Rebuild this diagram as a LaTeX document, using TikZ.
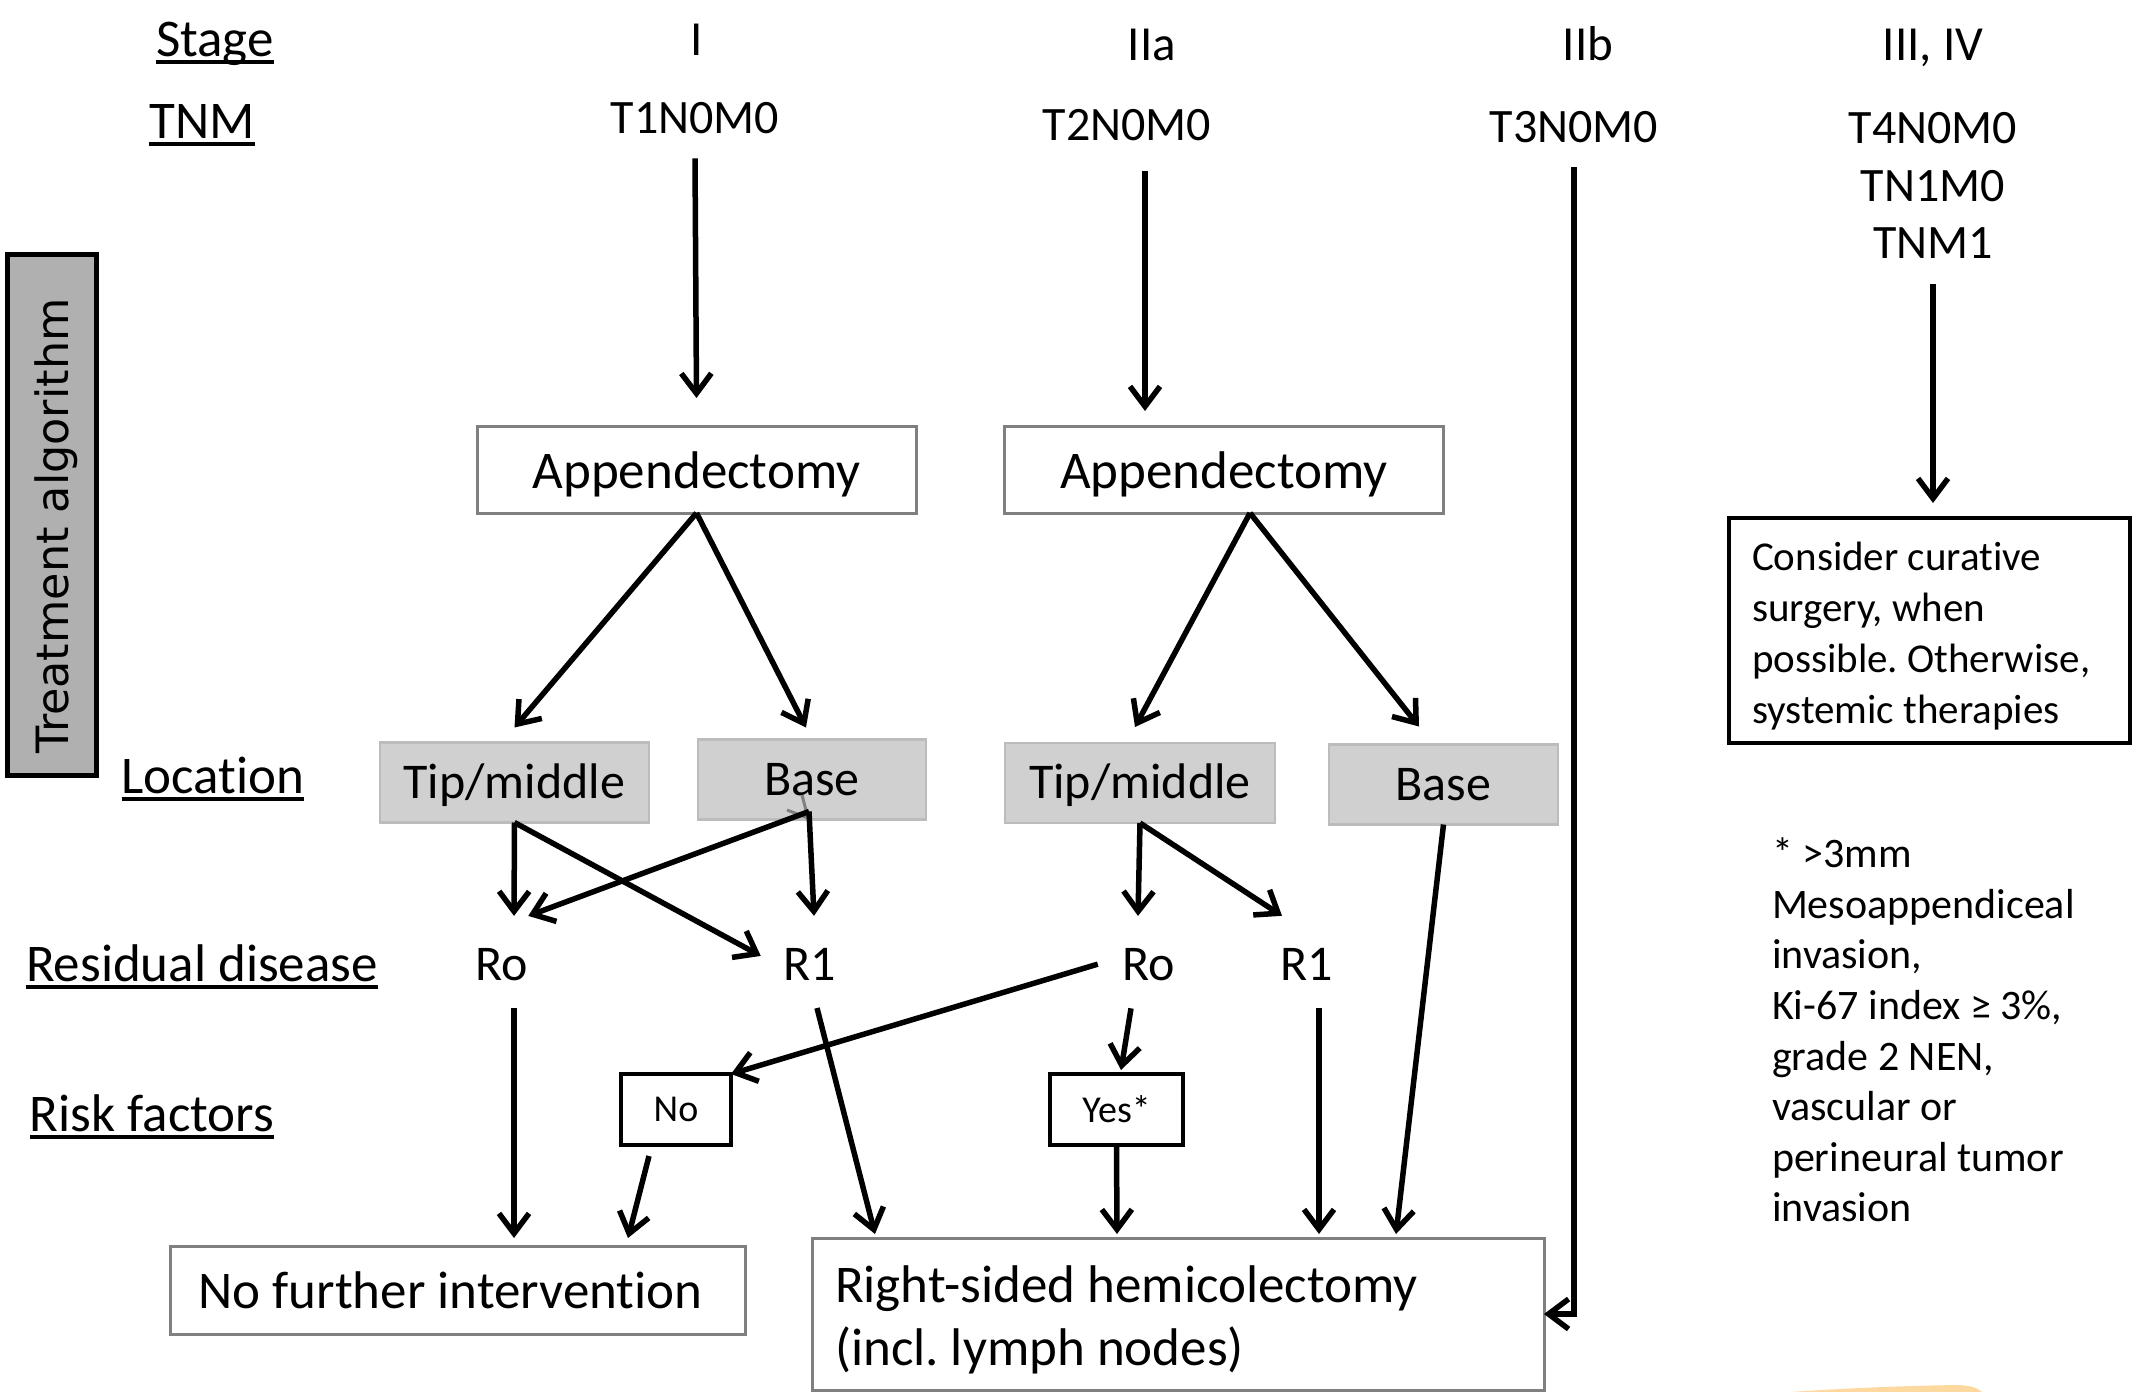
\documentclass[tikz,border=0pt]{standalone}
\usepackage{fontspec}
\setmainfont{Carlito}[Ligatures=CommonOff]
\newfontfamily\vfont{DejaVu Sans}
\usetikzlibrary{arrows.meta,calc}
\definecolor{boxline}{RGB}{128,128,128}
\definecolor{grayfill}{RGB}{208,208,208}
\definecolor{grayline}{RGB}{188,188,188}
\definecolor{treatfill}{RGB}{176,176,176}
\definecolor{smudge}{RGB}{253,217,160}
\frenchspacing
\begin{document}
\begin{tikzpicture}[x=1pt,y=-1pt,
  every node/.style={inner sep=0pt,outer sep=0pt},
  lbl/.style={anchor=base,font=\fontsize{53}{60}\selectfont},
  stg/.style={anchor=base,font=\fontsize{49}{56}\selectfont},
  code/.style={anchor=base,font=\fontsize{48}{56}\selectfont},
  resid/.style={anchor=base,font=\fontsize{50}{56}\selectfont},
  appbox/.style={draw=boxline,line width=3pt,fill=white,minimum width=439pt,minimum height=87pt,
    text height=48pt,text depth=10pt,font=\fontsize{53}{60}\selectfont},
  locbox/.style={draw=grayline,line width=2.5pt,fill=grayfill,minimum height=80pt,
    text height=41pt,text depth=10pt,font=\fontsize{50}{56}\selectfont},
  riskbox/.style={draw=black,line width=3.5pt,fill=white,minimum height=71pt,font=\fontsize{38}{44}\selectfont},
  endbox/.style={draw=boxline,line width=3pt,fill=white,font=\fontsize{53}{63}\selectfont},
  arr/.style={line width=5.5pt,-{Straight Barb[length=20pt,width=30pt]}},
  uline/.style={line width=4pt}
]
\useasboundingbox (0,0) rectangle (2150,1392);
\fill[white] (0,0) rectangle (2150,1392);

% row labels
\node[lbl] (stage) at (215,56) {Stage};
\node[lbl] (tnm) at (202,138) {TNM};
\node[lbl] (loc) at (213,793) {Location};
\node[lbl] (resd) at (202,981) {Residual disease};
\node[lbl] (risk) at (152,1131) {Risk factors};
\foreach \n in {stage,tnm,loc,resd,risk}
  \draw[uline] ($(\n.base west)+(0,6)$) -- ($(\n.base east)+(0,6)$);

% treatment algorithm
\node[draw=black,line width=5pt,fill=treatfill,minimum width=89pt,minimum height=521pt] (treat) at (51.5,514.5) {};
\node[rotate=90,font=\vfont\fontsize{44.5}{50}\selectfont] (treattext) at (56,526) {Treatment algorithm};

% stages
\node[stg] (s1) at (697,55) {I};
\node[stg] (s2a) at (1152,60) {IIa};
\node[stg] (s2b) at (1588,60) {IIb};
\node[stg] (s34) at (1933,60) {III, IV};

% TNM codes
\node[code] (t1) at (695,133) {T1N0M0};
\node[code] (t2) at (1127,140) {T2N0M0};
\node[code] (t3) at (1574,142) {T3N0M0};
\node[code] (t4) at (1933,143) {T4N0M0};
\node[code] (t4b) at (1933,201) {TN1M0};
\node[code] (t4c) at (1933,258) {TNM1};

% boxes
\node[appbox] (app1) at (696.5,469.5) {Appendectomy};
\node[appbox] (app2) at (1224,469.5) {Appendectomy};
\node[locbox,minimum width=269pt] (tip1) at (514.5,782.5) {Tip/middle};
\node[locbox,minimum width=228pt] (base1) at (812,779.5) {Base};
\node[locbox,minimum width=270pt] (tip2) at (1140,783) {Tip/middle};
\node[locbox,minimum width=229pt] (base2) at (1443.5,784.5) {Base};

\node[resid] (ro1) at (502,980) {Ro};
\node[resid] (r1a) at (810,980) {R1};
\node[resid] (ro2) at (1149,980) {Ro};
\node[resid] (r1b) at (1307,980) {R1};

\node[riskbox,minimum width=110pt] (no) at (676,1109.5) {No};
\node[riskbox,minimum width=133pt] (yes) at (1116.5,1109.5) {Yes*};

\node[endbox,minimum width=575pt,minimum height=88pt] (nfi) at (457.5,1290) {No further intervention\kern14pt};
\node[endbox,minimum height=152pt,inner xsep=23pt,text width=686pt,align=flush left] (rsh) at (1178,1314)
  {\rule{0pt}{48pt}Right-sided hemicolectomy\\(incl. lymph nodes)};

\node[draw=black,line width=3.5pt,fill=white,minimum height=225pt,inner xsep=23pt,text width=355pt,align=flush left,
  font=\fontsize{41}{51}\selectfont] (consider) at (1929.5,630.5)
  {\rule{0pt}{39pt}Consider curative\\surgery, when\\possible. Otherwise,\\systemic therapies};

\node[anchor=west,align=left,font=\fontsize{42}{50.6}\selectfont] (note) at (1772,1030)
  {* >3mm\\Mesoappendiceal\\invasion,\\Ki-67 index ≥ 3\%,\\grade 2 NEN,\\vascular or\\perineural tumor\\invasion};

% artifact in Base box
\draw[boxline,line width=3pt] (802,795) -- (808,818) -- (787,810);

% connectors
\draw[arr] ([yshift=-25pt]t1.south) -- ([yshift=28pt]app1.north);
\draw[arr] ([xshift=18pt,yshift=-31pt]t2.south) -- ([xshift=-79pt,yshift=15pt]app2.north);
\draw[arr] ([yshift=-25pt]t3.south) |- (rsh.east);
\draw[arr] ([yshift=-26pt]t4c.south) -- ([xshift=3.5pt,yshift=15pt]consider.north);

\draw[arr] (app1.south) -- ([yshift=15pt]tip1.north);
\draw[arr] (app1.south) -- ([xshift=-6pt,yshift=12pt]base1.north);
\draw[arr] ([xshift=26pt]app2.south) -- ([xshift=-5pt,yshift=16pt]tip2.north);
\draw[arr] ([xshift=26pt]app2.south) -- ([xshift=-24.5pt,yshift=18pt]base2.north);

\draw[arr] (tip1.south) -- ([xshift=12pt,yshift=32pt]ro1.north);
\draw[arr] (tip1.south) -- ([xshift=-23pt,yshift=8pt]r1a.west);
\draw[arr] ([xshift=-3pt,yshift=8pt]base1.south) -- ([xshift=4pt,yshift=32pt]r1a.north);
\draw[arr] ([xshift=-3pt,yshift=8pt]base1.south) -- ([yshift=32pt]ro1.north east);
\draw[arr] (tip2.south) -- ([xshift=-11pt,yshift=32pt]ro2.north);
\draw[arr] (tip2.south) -- ([xshift=-25pt,yshift=32pt]r1b.north);
\draw[arr] (base2.south) -- ([xshift=218pt,yshift=4pt]rsh.north);

\draw[arr] ([xshift=12pt,yshift=-28pt]ro1.south) -- ([xshift=56.5pt,yshift=8pt]nfi.north);
\draw[arr] ([xshift=7pt,yshift=-28pt]r1a.south) -- ([xshift=-303pt,yshift=4pt]rsh.north);
\draw[arr] ([xshift=-25pt]ro2.west) -- (no.north east);
\draw[arr] ([xshift=-18pt,yshift=-28pt]ro2.south) -- ([xshift=4.5pt,yshift=4pt]yes.north);
\draw[arr] ([xshift=-27pt,yshift=-11pt]no.south) -- ([xshift=170.5pt,yshift=8pt]nfi.north);
\draw[arr] (yes.south) -- ([xshift=-61pt,yshift=4pt]rsh.north);
\draw[arr] ([xshift=12pt,yshift=-28pt]r1b.south) -- ([xshift=141pt,yshift=4pt]rsh.north);

% orange smudge
\fill[smudge] (1790,1392) .. controls (1850,1388) and (1900,1386) .. (1955,1385)
  .. controls (1970,1385) and (1978,1388) .. (1982,1392) -- cycle;
\end{tikzpicture}
\end{document}
